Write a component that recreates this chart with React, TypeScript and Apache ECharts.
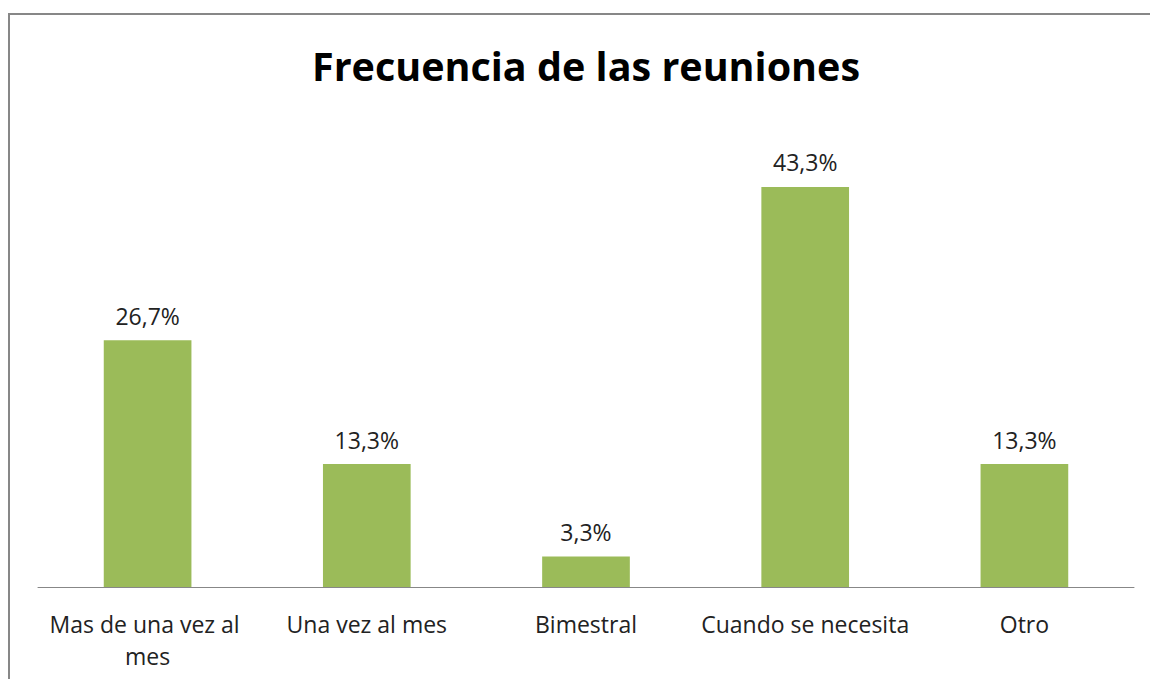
import React, { useEffect, useRef } from "react";
import * as echarts from "echarts";

const categories = ["Mas de una vez al mes", "Una vez al mes", "Bimestral", "Cuando se necesita", "Otro"];
const values = [26.7, 13.3, 3.3, 43.3, 13.3];
const title = "Frecuencia de las reuniones";

export default function App() {
  const ref = useRef<HTMLDivElement>(null);
  useEffect(() => {
    const chart = echarts.init(ref.current!, null, { renderer: "svg" });
    chart.setOption({
      animation: false,
      backgroundColor: "#ffffff",
      title: {
        text: title,
        left: 581,
        top: 41,
        textAlign: "center",
        textStyle: { fontFamily: "Open Sans", fontWeight: "bold", fontSize: 39.5, color: "#000000" },
      },
      graphic: [
        {
          type: "rect",
          shape: { x: 9, y: 14, width: 1200, height: 700 },
          style: { fill: "none", stroke: "#878787", lineWidth: 2 },
          silent: true,
        },
      ],
      grid: { left: 38, right: 16, top: 125, bottom: 92, containLabel: false },
      xAxis: {
        type: "category",
        data: categories,
        axisLine: { lineStyle: { color: "#878787", width: 1 } },
        axisTick: { show: false },
        axisLabel: {
          interval: 0,
          width: 210,
          overflow: "break",
          margin: 21,
          lineHeight: 32,
          fontFamily: "Open Sans",
          fontSize: 23,
          color: "#222222",
        },
      },
      yAxis: {
        type: "value",
        min: 0,
        max: 50,
        show: false,
        splitLine: { show: false },
      },
      series: [
        {
          type: "bar",
          data: values,
          barWidth: "40%",
          itemStyle: { color: "#9BBB59" },
          label: {
            show: true,
            position: "top",
            distance: 13,
            formatter: (p: any) => p.value.toFixed(1).replace(".", ",") + "%",
            fontFamily: "Open Sans",
            fontSize: 23,
            color: "#222222",
          },
        },
      ],
    });
    return () => chart.dispose();
  }, []);
  return <div ref={ref} style={{ position: "absolute", left: 0, top: 0, width: 1150, height: 679 }} />;
}
